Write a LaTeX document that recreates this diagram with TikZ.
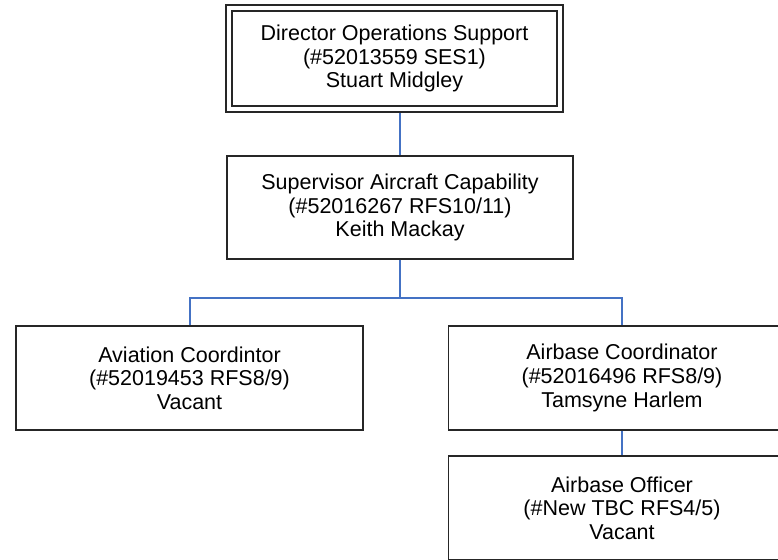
\documentclass[tikz,border=0pt]{standalone}
\usepackage{fontspec}
\setmainfont{Liberation Sans}

\definecolor{linkblue}{HTML}{4472C4}

\tikzset{
  post/.style={rectangle,draw=black!85,line width=1.4pt,fill=white,
    inner sep=0pt,align=center,minimum width=347pt,minimum height=104pt,
    font=\fontsize{21.5}{23.6}\selectfont},
  head/.style={post,double,double distance=4.6pt,minimum width=331pt,
    minimum height=101pt},
  link/.style={draw=linkblue,line width=2pt}
}

\begin{document}
\begin{tikzpicture}[x=1pt,y=-1pt]

      \clip (0,0) rectangle (778,559);

      \begin{scope}[every node/.style={post}]
        \node[head] (dir) at (394.5,58.5) {Director Operations Support\\(\#52013559 SES1)\\Stuart Midgley};
        \node[minimum width=346pt,minimum height=103pt] (sup) at (400,207.5) {Supervisor Aircraft Capability\\(\#52016267 RFS10/11)\\Keith Mackay};
        \node (avi) at (189.5,378) {Aviation Coordintor\\(\#52019453 RFS8/9)\\Vacant};
        \node (abc) at (622,378) {Airbase Coordinator\\(\#52016496 RFS8/9)\\Tamsyne Harlem};
        \node (abo) at (622,508) {Airbase Officer\\(\#New TBC RFS4/5)\\Vacant};
      \end{scope}

      \coordinate (bus) at (400,298);

      \begin{scope}[every path/.style={link}]
        \path (sup.north) edge[shorten >=3.7pt] (sup.north |- dir.south);
        \path (sup.south) edge (bus);
        \draw (avi.north) |- (bus) -| (abc.north);
        \path (abc.south) edge (abo.north);
      \end{scope}

    \end{tikzpicture}
\end{document}
